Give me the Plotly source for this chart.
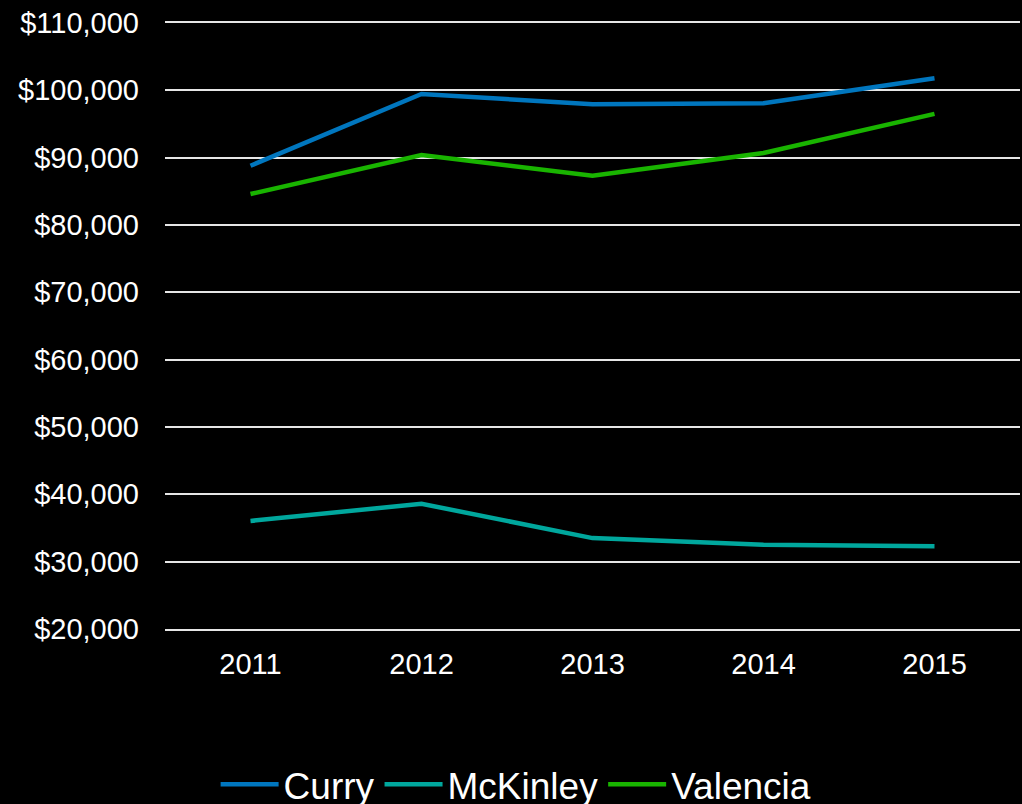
import plotly.graph_objects as go

years = ["2011", "2012", "2013", "2014", "2015"]
curry = [88800, 99450, 97950, 98100, 101800]
mckinley = [36050, 38600, 33500, 32500, 32300]
valencia = [84600, 90400, 87300, 90700, 96500]

series = [
    ("Curry", curry, "#0076BE"),
    ("McKinley", mckinley, "#00A79D"),
    ("Valencia", valencia, "#19B400"),
]

fig = go.Figure()
for name, vals, color in series:
    fig.add_trace(go.Scatter(x=years, y=vals, name=name, mode="lines",
                             line=dict(color=color, width=4.5)))

font = "Liberation Sans, Arial, sans-serif"
grid = "#E6E6E6"
fig.update_layout(
    width=1022, height=804,
    paper_bgcolor="black", plot_bgcolor="black",
    margin=dict(l=165, r=2, t=23, b=175, autoexpand=False),
    font=dict(family=font, color="white", size=29),
    showlegend=True,
    legend=dict(orientation="h", xref="container", x=0.505, xanchor="center",
                y=-0.257, yanchor="middle", font=dict(size=37, color="white"),
                bgcolor="rgba(0,0,0,0)", itemwidth=58, tracegroupgap=0),
    xaxis=dict(type="category", showgrid=False, zeroline=False,
               showline=True, mirror=True, linecolor=grid, linewidth=1.5,
               tickfont=dict(size=29, color="white"), ticklabelstandoff=8,
               range=[-0.5, 4.5]),
    yaxis=dict(range=[20000, 110000], dtick=10000, tick0=20000,
               tickprefix="$", tickformat=",d", showgrid=True,
               gridcolor=grid, gridwidth=1.5, zeroline=False,
               showline=False, tickfont=dict(size=29, color="white"),
               ticklabelstandoff=25),
)
fig.write_html("out.html", config={"displayModeBar": False},
               post_script="document.body.style.margin='0';document.body.style.background='black';")
